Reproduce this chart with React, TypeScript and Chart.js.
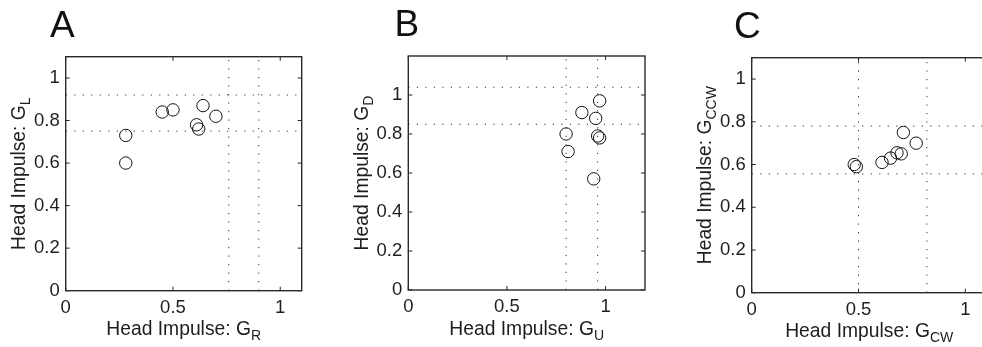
import React, { useEffect, useRef } from "react";
import { Chart, registerables } from "chart.js";

Chart.register(...registerables);

// ---------- data ----------
const panelLetters = ["A", "B", "C"];
const titleMain = "Head Impulse: G";
const xSubscripts = ["R", "U", "CW"];
const ySubscripts = ["L", "D", "CCW"];

const xTickValues = [0, 0.5, 1];
const yTickValues = [0, 0.2, 0.4, 0.6, 0.8, 1];
const axisMax = [1.1, 1.2, 1.1];

const aX = [0.28, 0.28, 0.45, 0.5, 0.64, 0.7, 0.61, 0.62];
const aY = [0.73, 0.6, 0.84, 0.85, 0.87, 0.82, 0.78, 0.76];
const bX = [0.97, 0.88, 0.95, 0.8, 0.81, 0.96, 0.97, 0.94];
const bY = [0.97, 0.91, 0.88, 0.8, 0.71, 0.79, 0.78, 0.57];
const cX = [0.48, 0.49, 0.61, 0.65, 0.68, 0.7, 0.71, 0.77];
const cY = [0.6, 0.59, 0.61, 0.63, 0.655, 0.65, 0.75, 0.7];

const aVLines = [0.76, 0.9];
const aHLines = [0.92, 0.75];
const bVLines = [0.8, 0.96];
const bHLines = [1.04, 0.85];
const cVLines = [0.5, 0.82];
const cHLines = [0.78, 0.556];

// ---------- layout ----------
const FONT = "'Liberation Sans', Arial, Helvetica, sans-serif";
const PAGE_H = 347;
const Y_W = 50;
const X_H = 40;

type PanelCfg = {
  left: number;
  width: number;
  area: { l: number; r: number; t: number; b: number };
  letterX: number;
  max: number;
  xs: number[];
  ys: number[];
  vLines: number[];
  hLines: number[];
  letter: string;
  xSub: string;
  ySub: string;
};

const panels: PanelCfg[] = [
  {
    left: 0, width: 320,
    area: { l: 65.7, r: 301.7, t: 56.7, b: 290.7 },
    letterX: 50,
    max: axisMax[0], xs: aX, ys: aY, vLines: aVLines, hLines: aHLines,
    letter: panelLetters[0], xSub: xSubscripts[0], ySub: ySubscripts[0],
  },
  {
    left: 330, width: 330,
    area: { l: 408.3, r: 645, t: 56, b: 290 },
    letterX: 394.5,
    max: axisMax[1], xs: bX, ys: bY, vLines: bVLines, hLines: bHLines,
    letter: panelLetters[1], xSub: xSubscripts[1], ySub: ySubscripts[1],
  },
  {
    left: 660, width: 340,
    area: { l: 751.7, r: 986.7, t: 57.7, b: 292.7 },
    letterX: 734,
    max: axisMax[2], xs: cX, ys: cY, vLines: cVLines, hLines: cHLines,
    letter: panelLetters[2], xSub: xSubscripts[2], ySub: ySubscripts[2],
  },
];

const fmt = (v: number) => String(Math.round(v * 100) / 100);

function Panel({ cfg }: { cfg: PanelCfg }) {
  const ref = useRef<HTMLCanvasElement>(null);

  useEffect(() => {
    const canvas = ref.current!;
    const { left, width, area, max, xs, ys, vLines, hLines } = cfg;
    const padding = {
      left: area.l - left - Y_W,
      right: left + width - area.r,
      top: area.t,
      bottom: PAGE_H - area.b - X_H,
    };

    const refStyle = {
      showLine: true,
      borderColor: "#2e2e2e",
      borderWidth: 1,
      borderDash: [1.2, 7.3],
      pointRadius: 0,
      fill: false,
    };
    const refSets = [
      ...vLines.map((v) => ({ ...refStyle, data: [{ x: v, y: 0 }, { x: v, y: max }] })),
      ...hLines.map((v) => ({ ...refStyle, data: [{ x: 0, y: v }, { x: max, y: v }] })),
    ];

    const pointsSet = {
      data: xs.map((x, i) => ({ x, y: ys[i] })),
      showLine: false,
      pointStyle: "circle",
      pointRadius: 6.2,
      borderColor: "#111",
      borderWidth: 1,
      backgroundColor: "rgba(0,0,0,0)",
    };

    const framePlugin = {
      id: "frame" + cfg.letter,
      afterDraw(chart: any) {
        const { ctx, chartArea: a, scales } = chart;
        const sx = scales.x;
        const sy = scales.y;
        ctx.save();
        // inner tick marks
        ctx.strokeStyle = "#262626";
        ctx.lineWidth = 1;
        ctx.beginPath();
        for (const v of xTickValues) {
          const px = sx.getPixelForValue(v);
          ctx.moveTo(px, a.bottom);
          ctx.lineTo(px, a.bottom - 4);
          ctx.moveTo(px, a.top);
          ctx.lineTo(px, a.top + 4);
        }
        for (const v of yTickValues) {
          const py = sy.getPixelForValue(v);
          ctx.moveTo(a.left, py);
          ctx.lineTo(a.left + 4, py);
          ctx.moveTo(a.right, py);
          ctx.lineTo(a.right - 4, py);
        }
        ctx.stroke();
        // box
        ctx.lineWidth = 1.4;
        ctx.strokeStyle = "#2a2a2a";
        ctx.strokeRect(a.left, a.top, a.right - a.left, a.bottom - a.top);

        // axis titles with subscripts
        ctx.fillStyle = "#1e1e1e";
        ctx.textBaseline = "alphabetic";
        ctx.textAlign = "left";
        const mainFont = `19.3px ${FONT}`;
        const subFont = `14px ${FONT}`;
        ctx.font = mainFont;
        const wm = ctx.measureText(titleMain).width;
        ctx.font = subFont;
        const wxs = ctx.measureText(cfg.xSub).width;
        const wys = ctx.measureText(cfg.ySub).width;

        // x title
        const cx = (a.left + a.right) / 2;
        const bx = a.bottom + 44.5;
        const x0 = cx - (wm + wxs) / 2;
        ctx.font = mainFont;
        ctx.fillText(titleMain, x0, bx);
        ctx.font = subFont;
        ctx.fillText(cfg.xSub, x0 + wm, bx + 5);

        // y title
        const cy = (a.top + a.bottom) / 2;
        ctx.save();
        ctx.translate(a.left - 40.5, cy);
        ctx.rotate(-Math.PI / 2);
        const y0 = -(wm + wys) / 2;
        ctx.font = mainFont;
        ctx.fillText(titleMain, y0, 0);
        ctx.font = subFont;
        ctx.fillText(cfg.ySub, y0 + wm, 5);
        ctx.restore();

        // panel letter
        ctx.font = `37px ${FONT}`;
        ctx.fillStyle = "#111";
        ctx.fillText(cfg.letter, cfg.letterX - left, a.top - 20);
        ctx.restore();
      },
    };

    const tickFont = { family: FONT, size: 18.5 };
    const chart = new Chart(canvas, {
      type: "scatter",
      data: { datasets: [...refSets, pointsSet] as any },
      options: {
        responsive: false,
        animation: false,
        devicePixelRatio: 1,
        events: [],
        layout: { padding },
        plugins: { legend: { display: false }, tooltip: { enabled: false } },
        scales: {
          x: {
            type: "linear",
            min: 0,
            max,
            grid: { display: false, drawTicks: false },
            border: { display: false },
            afterBuildTicks: (s: any) => {
              s.ticks = xTickValues.map((v) => ({ value: v }));
            },
            afterFit: (s: any) => {
              s.height = X_H;
            },
            ticks: {
              font: tickFont,
              color: "#1e1e1e",
              padding: 6,
              maxRotation: 0,
              autoSkip: false,
              callback: (v: any) => fmt(Number(v)),
            },
          },
          y: {
            type: "linear",
            min: 0,
            max,
            grid: { display: false, drawTicks: false },
            border: { display: false },
            afterBuildTicks: (s: any) => {
              s.ticks = yTickValues.map((v) => ({ value: v }));
            },
            afterFit: (s: any) => {
              s.width = Y_W;
            },
            ticks: {
              font: tickFont,
              color: "#1e1e1e",
              padding: 6,
              autoSkip: false,
              callback: (v: any) => fmt(Number(v)),
            },
          },
        },
      } as any,
      plugins: [framePlugin],
    });
    return () => chart.destroy();
  }, [cfg]);

  return (
    <canvas
      ref={ref}
      width={cfg.width}
      height={PAGE_H}
      style={{ position: "absolute", left: cfg.left, top: 0, width: cfg.width, height: PAGE_H }}
    />
  );
}

export default function App() {
  return (
    <div
      style={{
        position: "fixed",
        left: 0,
        top: 0,
        width: 982,
        height: 347,
        overflow: "hidden",
        background: "#fff",
      }}
    >
      {panels.map((p) => (
        <Panel key={p.letter} cfg={p} />
      ))}
    </div>
  );
}
